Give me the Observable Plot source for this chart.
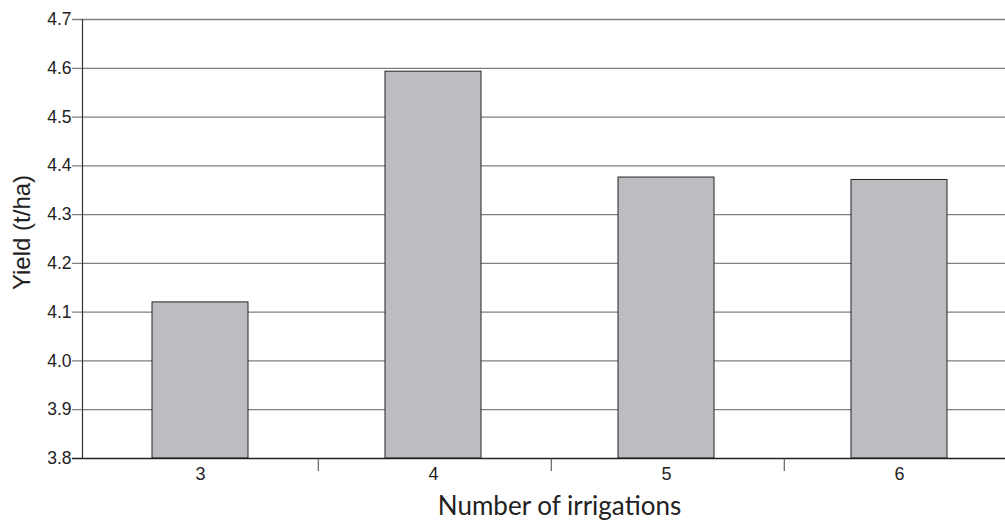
<!DOCTYPE html>
<html><head><meta charset="utf-8">
<script src="https://cdn.jsdelivr.net/npm/d3@7"></script>
<script src="https://cdn.jsdelivr.net/npm/@observablehq/plot@0.6"></script>
<style>body{margin:0;background:#fff;} svg{display:block;}</style>
</head><body><div id="chart"></div>
<script>
const categories = ["3", "4", "5", "6"];
const yields = [4.12, 4.593, 4.376, 4.371];
const yTicks = [3.8, 3.9, 4.0, 4.1, 4.2, 4.3, 4.4, 4.5, 4.6, 4.7];
const xTitle = "Number of irrigations";
const yTitle = "Yield (t/ha)";

const data = categories.map((c, i) => ({c, v: yields[i]}));
const W = 1005, H = 524, left = 82, right = 1016;
const step = (right - left) / categories.length;

const plot = Plot.plot({
  width: W, height: H,
  marginLeft: left, marginRight: 0, marginTop: 19, marginBottom: 66,
  style: {fontFamily: "'Liberation Sans', Arial, sans-serif", fontSize: "17px", background: "#fff", color: "#222"},
  x: {domain: categories, range: [left, right], paddingInner: 0.59, paddingOuter: 0.295},
  y: {domain: [3.8, 4.7]},
  marks: [
    Plot.ruleY(yTicks.slice(1), {y: d => d, stroke: "#808080", strokeWidth: 1.3, insetLeft: -10}),
    Plot.barY(data, {x: "c", y1: 3.8, y2: "v", fill: "#bcbdc1", stroke: "#222", strokeWidth: 1}),
    Plot.ruleY([3.8], {stroke: "#222", strokeWidth: 1.3, insetLeft: -10}),
    Plot.frame({anchor: "left", stroke: "#333", strokeWidth: 1.2}),
    Plot.axisY({ticks: yTicks, tickSize: 0, tickPadding: 11, tickFormat: d3.format(".1f"), fontSize: 17.5, fill: "#222", label: null}),
    Plot.axisX({tickSize: 0, tickPadding: 9, fontSize: 18, fill: "#222", label: null}),
    Plot.ruleX(categories.slice(0, -1), {x: d => d, dx: step / 2 + 1, y1: 3.8, y2: 3.8, insetBottom: -13, stroke: "#444", strokeWidth: 1}),
    Plot.text([xTitle], {frameAnchor: "bottom", lineAnchor: "bottom", dy: 56, dx: 15.5, text: d => d, fontSize: 26, fontFamily: "Lato, 'Open Sans', sans-serif", fill: "#222"}),
    Plot.text([yTitle], {frameAnchor: "left", textAnchor: "middle", dx: -60, dy: -6.5, rotate: -90, text: d => d, fontSize: 24, fill: "#222"})
  ]
});
document.getElementById("chart").appendChild(plot);
</script></body></html>
